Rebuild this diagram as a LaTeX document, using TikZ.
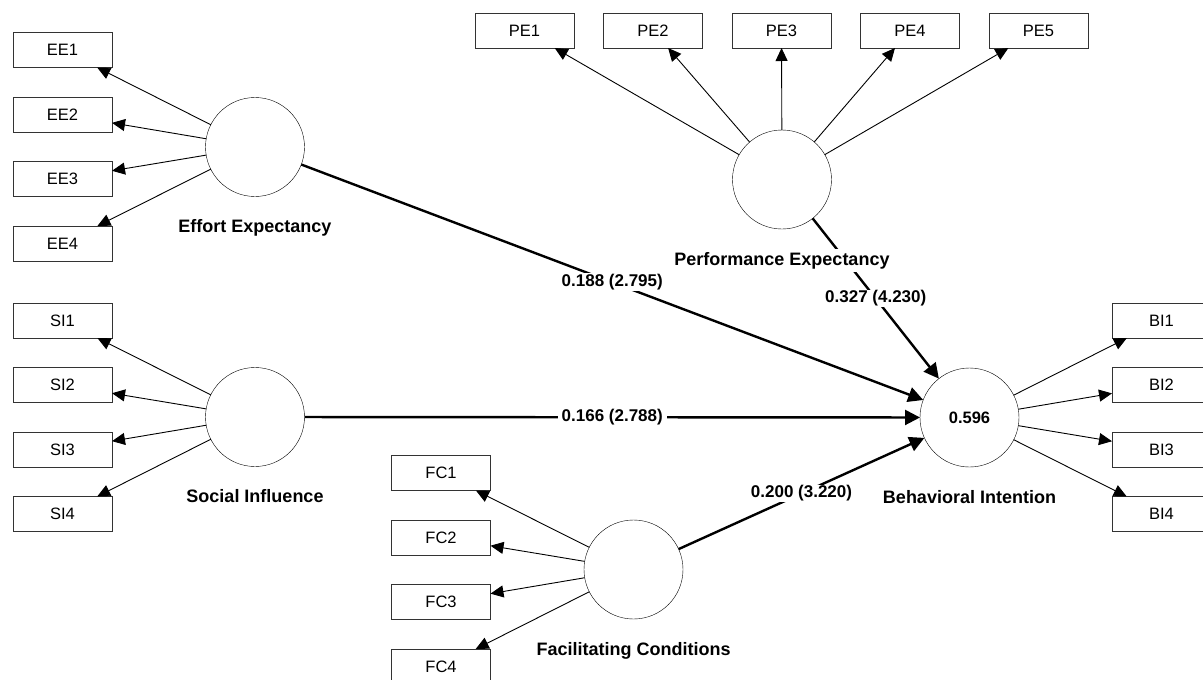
\documentclass[tikz,border=0pt]{standalone}
\usepackage{fontspec}
\setmainfont{Liberation Sans}
\usetikzlibrary{shapes, arrows.meta, positioning, calc}

\begin{document}
\begin{tikzpicture}[x=1pt, y=-1pt,
		ind/.style={draw=black!80, rectangle, minimum width=99pt, minimum height=35pt,
			inner sep=0pt, outer sep=0pt, font=\fontsize{16.5}{18}\selectfont},
		lv/.style={draw, circle, minimum size=99pt, inner sep=0pt, outer sep=0pt,
			font=\bfseries\fontsize{16.5}{18}\selectfont},
		lvname/.style={anchor=base, fill=white, inner sep=3pt,
			font=\bfseries\fontsize{18}{20}\selectfont},
		load/.style={-{Triangle[length=13pt,width=12pt]}, line width=0.9pt},
		coef/.style={-{Triangle[length=15pt,width=15pt]}, line width=2.4pt},
		val/.style={fill=white, inner xsep=4pt, inner ysep=1pt,
			font=\bfseries\fontsize{17}{19}\selectfont},
		node distance=29.5pt and 29.5pt]
	\useasboundingbox (0,0) rectangle (1203,680);
	\clip (0,0) rectangle (1203,680);

	\node[lv] (EE) at (255,147)     {};
	\node[lv] (SI) at (255,417)     {};
	\node[lv] (PE) at (782,179.5)   {};
	\node[lv] (BI) at (969.5,417.5) {0.596};
	\node[lv] (FC) at (633.5,569.5) {};

	\node[ind] (EE1) at (62.5,50)   {EE1};
	\node[ind, below =of EE1] (EE2) {EE2};
	\node[ind, below =of EE2] (EE3) {EE3};
	\node[ind, below =of EE3] (EE4) {EE4};

	\node[ind] (SI1) at (62.5,320.5) {SI1};
	\node[ind, below =of SI1] (SI2)  {SI2};
	\node[ind, below =of SI2] (SI3)  {SI3};
	\node[ind, below =of SI3] (SI4)  {SI4};

	\node[ind] (PE1) at (524.5,30.5) {PE1};
	\node[ind, right =of PE1] (PE2)  {PE2};
	\node[ind, right =of PE2] (PE3)  {PE3};
	\node[ind, right =of PE3] (PE4)  {PE4};
	\node[ind, right =of PE4] (PE5)  {PE5};

	\node[ind] (BI1) at (1161.5,320.5) {BI1};
	\node[ind, below =of BI1] (BI2)    {BI2};
	\node[ind, below =of BI2] (BI3)    {BI3};
	\node[ind, below =of BI3] (BI4)    {BI4};

	\node[ind] (FC1) at (441,473)   {FC1};
	\node[ind, below =of FC1] (FC2) {FC2};
	\node[ind, below =of FC2] (FC3) {FC3};
	\node[ind, below =of FC3] (FC4) {FC4};

	\foreach \from/\to in {EE/EE1, EE/EE2, EE/EE3, EE/EE4,
							SI/SI1, SI/SI2, SI/SI3, SI/SI4,
							PE/PE1, PE/PE2, PE/PE3, PE/PE4, PE/PE5,
							BI/BI1, BI/BI2, BI/BI3, BI/BI4,
							FC/FC1, FC/FC2, FC/FC3, FC/FC4}
		\draw[load] (\from) -- (\to);

	\foreach \from/\val in {EE/{0.188 (2.795)}, SI/{0.166 (2.788)},
							PE/{0.327 (4.230)}, FC/{0.200 (3.220)}}
		\draw[coef] (\from) -- node[val] (v\from) {\val} (BI);

	\node[lvname] (EElab) at ($(EE)+(0,85.5)$) {Effort Expectancy};
	\node[lvname] (SIlab) at ($(SI)+(0,85.5)$) {Social Influence};
	\node[lvname] (PElab) at ($(PE)+(0,85.5)$) {Performance Expectancy};
	\node[lvname] (BIlab) at ($(BI)+(0,85.5)$) {Behavioral Intention};
	\node[lvname] (FClab) at ($(FC)+(0,85.5)$) {Facilitating Conditions};
\end{tikzpicture}
\end{document}
